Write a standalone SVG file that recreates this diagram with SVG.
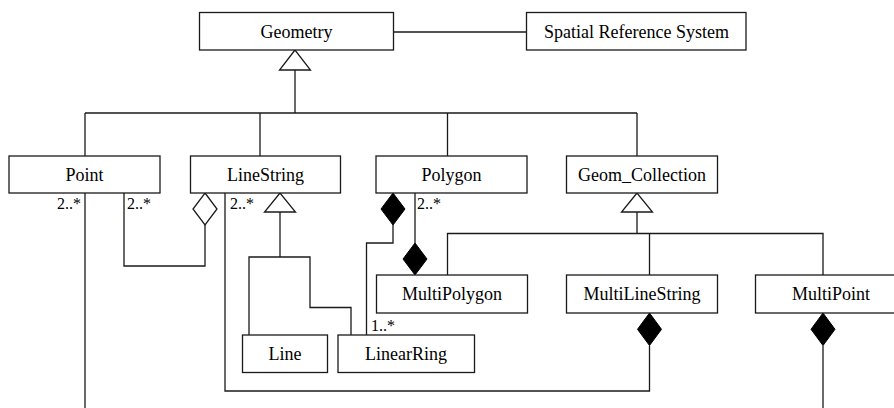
<svg xmlns="http://www.w3.org/2000/svg" width="894" height="408" viewBox="0 0 894 408">
<style>
.box{fill:#fff;stroke:#1a1a1a;stroke-width:1.3}
.name{font-size:18px;fill:#000;text-anchor:middle}
.lbl{font-size:16px;fill:#000}
.ln{fill:none;stroke:#1a1a1a;stroke-width:1.3}
.hollow{fill:#fff;stroke:#1a1a1a;stroke-width:1.3}
.solid{fill:#000;stroke:#000;stroke-width:1}
</style>
<rect width="894" height="408" fill="#fff"/>
<g font-family="Liberation Serif, Times New Roman, serif">
<g id="connectors">
  <path class="ln" d="M393.5 32 H526.5"/>
  <path class="ln" d="M295 70 V113 M85 113 H637 M85 113 V156 M260 113 V156 M447.5 113 V156 M637 113 V156"/>
  <polygon class="hollow" points="295,50 279.5,70 310.5,70"/>
  <path class="ln" d="M85 193 V408"/>
  <path class="ln" d="M124 193 V266 H205 V225"/>
  <polygon class="hollow" points="205,193 217,209 205,225 193,209"/>
  <path class="ln" d="M225 193 V391 H649.5 V345.5"/>
  <polygon class="solid" points="649.5,313 661.5,329.3 649.5,345.5 637.5,329.3"/>
  <path class="ln" d="M280 212 V257 M249 335 V257 H310 V307.5 H351 V335"/>
  <polygon class="hollow" points="280,193 264.5,212 295.5,212"/>
  <path class="ln" d="M393 225 V243 H366.5 V335"/>
  <polygon class="solid" points="393,193 405,209 393,225 381,209"/>
  <path class="ln" d="M415 193 V243"/>
  <polygon class="solid" points="415,243 427,259 415,275 403,259"/>
  <path class="ln" d="M637 212 V233.5 M447.5 275 V233.5 H823 V275 M649.5 233.5 V275"/>
  <polygon class="hollow" points="637,193 621.5,212 652.5,212"/>
  <path class="ln" d="M823 345.5 V408"/>
  <polygon class="solid" points="823,313 835,329.3 823,345.5 811,329.3"/>
  <text class="lbl" x="81" y="209" text-anchor="end">2..*</text>
  <text class="lbl" x="127" y="209">2..*</text>
  <text class="lbl" x="230" y="209">2..*</text>
  <text class="lbl" x="417" y="209">2..*</text>
  <text class="lbl" x="371" y="331">1..*</text>
</g>
<g id="geometry"><rect class="box" x="199.5" y="12.5" width="194" height="37.5"/><text class="name" x="296.5" y="37.5">Geometry</text></g>
<g id="srs"><rect class="box" x="526.5" y="12.5" width="219.5" height="37.5"/><text class="name" x="636.5" y="37.5">Spatial Reference System</text></g>
<g id="point"><rect class="box" x="9" y="156" width="151" height="37"/><text class="name" x="84.5" y="180.5">Point</text></g>
<g id="linestring"><rect class="box" x="190.5" y="156" width="150" height="37"/><text class="name" x="265.5" y="180.5">LineString</text></g>
<g id="polygon"><rect class="box" x="376" y="156" width="151" height="37"/><text class="name" x="451.5" y="180.5">Polygon</text></g>
<g id="geom_collection"><rect class="box" x="566.5" y="156" width="151" height="37"/><text class="name" x="642" y="180.5">Geom_Collection</text></g>
<g id="multipolygon"><rect class="box" x="376.5" y="275" width="151" height="38"/><text class="name" x="452" y="300">MultiPolygon</text></g>
<g id="multilinestring"><rect class="box" x="566.5" y="275" width="151" height="38"/><text class="name" x="642" y="300">MultiLineString</text></g>
<g id="multipoint"><rect class="box" x="755.5" y="275" width="151" height="38"/><text class="name" x="831" y="300">MultiPoint</text></g>
<g id="line"><rect class="box" x="242.5" y="335" width="85" height="37.5"/><text class="name" x="285" y="360">Line</text></g>
<g id="linearring"><rect class="box" x="338" y="335" width="136.5" height="37.5"/><text class="name" x="406" y="360">LinearRing</text></g>
</g>
</svg>
